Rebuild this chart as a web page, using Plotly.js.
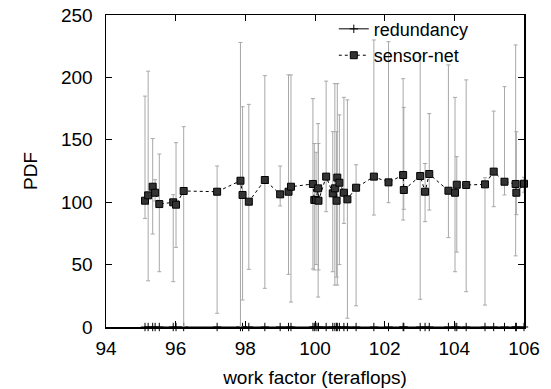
<!DOCTYPE html>
<html>
<head>
<meta charset="utf-8">
<script src="https://cdn.plot.ly/plotly-3.0.1.min.js"></script>
<style>html,body{margin:0;padding:0;background:#fff;}#chart{width:551px;height:389px;}</style>
</head>
<body>
<div id="chart"></div>
<script>
// work factor (teraflops)
var workFactor = [95.12, 95.21, 95.34, 95.41, 95.53, 95.93, 96.01, 96.23, 97.19, 97.86,
  97.92, 98.10, 98.56, 99.00, 99.24, 99.31, 99.94, 99.98, 100.03, 100.09,
  100.10, 100.32, 100.51, 100.57, 100.62, 100.64, 100.70, 100.83, 100.93, 101.18,
  101.69, 102.11, 102.53, 102.55, 103.02, 103.16, 103.28, 103.83, 104.02, 104.07,
  104.34, 104.88, 105.13, 105.44, 105.76, 105.78, 106.00];
// sensor-net PDF
var sensorNet = [101.2, 105.5, 112.4, 107.6, 98.5, 99.9, 98.0, 109.0, 108.4, 117.2,
  105.8, 100.4, 117.8, 106.3, 108.4, 112.4, 114.6, 101.8, 101.8, 111.1,
  101.2, 120.5, 107.1, 111.1, 101.2, 119.7, 115.6, 107.6, 102.3, 111.6,
  120.5, 115.9, 121.8, 109.8, 121.0, 108.4, 122.6, 109.2, 107.6, 114.0,
  113.8, 114.3, 124.5, 116.4, 114.6, 107.6, 114.8];
// error bar upper / lower ends
var sensorHigh = [185, 205, 151, 118, 138.6, 106, 147.7, 160.5, 129, 228,
  176.5, 178.4, 201.4, 129, 202, 202, 183, 147, 140, 163,
  147, 197, 156.5, 195, 156.5, 195, 170, 184, 182, 130,
  230, 228.6, 199, 176, 216.6, 131, 171, 210, 184, 136.5,
  198, 119.6, 173, 192.6, 226, 156.5, 120];
var sensorLow = [87, 37, 74.5, 101, 44.3, 36.3, 63.8, 0, 11, 0,
  21.6, 46.2, 31, 97, 42.2, 20, 46.5, 45.7, 50, 24,
  45.7, 92.4, 44.3, 33.6, 40, 33.6, 50, 83, 7, 17,
  89.7, 99.6, 85.7, 94.3, 22.2, 84.4, 93.7, 71.6, 44.3, 60,
  28.3, 17.6, 96.4, 105.8, 57, 90, 108];
// redundancy PDF
var redundancy = workFactor.map(function(){ return 0; });

var xTicks = [94, 96, 98, 100, 102, 104, 106];
var yTicks = [0, 50, 100, 150, 200, 250];

var font = {family: 'Liberation Sans, Arial, sans-serif', size: 19, color: '#000'};

var traces = [
  {
    x: workFactor, y: redundancy, name: 'redundancy', type: 'scatter', mode: 'lines+markers',
    line: {color: '#000', width: 1},
    marker: {symbol: 'cross-thin', size: 6, color: '#000', line: {color: '#000', width: 1}},
    cliponaxis: false
  },
  {
    x: workFactor, y: sensorNet, name: 'sensor-net', type: 'scatter', mode: 'lines+markers',
    line: {color: '#000', width: 1, dash: 'dot'},
    marker: {symbol: 'square', size: 7, color: '#333', line: {color: '#000', width: 1}},
    error_y: {
      type: 'data', symmetric: false,
      array: sensorHigh.map(function(h, i){ return h - sensorNet[i]; }),
      arrayminus: sensorLow.map(function(l, i){ return sensorNet[i] - l; }),
      color: '#a8a8a8', thickness: 1, width: 2
    },
    cliponaxis: false
  }
];

var layout = {
  width: 551, height: 389,
  margin: {l: 106, r: 27, t: 15, b: 62, autoexpand: false},
  paper_bgcolor: '#fff', plot_bgcolor: '#fff',
  font: font,
  showlegend: true,
  legend: {x: 0.545, y: 1.014, xanchor: 'left', yanchor: 'top', bgcolor: 'rgba(0,0,0,0)',
           font: {family: font.family, size: 18}, tracegroupgap: 0},
  xaxis: {
    range: [94, 106], tickvals: xTicks, ticktext: xTicks.map(String),
    ticks: 'inside', ticklen: 6, tickcolor: '#000', mirror: 'allticks',
    showline: true, linecolor: '#000', linewidth: 1.5, showgrid: false, zeroline: false,
    tickfont: {family: font.family, size: 19}, ticklabelstandoff: 4,
    title: {text: 'work factor (teraflops)', font: {family: font.family, size: 19}, standoff: 12}
  },
  yaxis: {
    range: [0, 250], tickvals: yTicks, ticktext: yTicks.map(String),
    ticks: 'inside', ticklen: 6, tickcolor: '#000', mirror: 'allticks',
    showline: true, linecolor: '#000', linewidth: 1.5, showgrid: false, zeroline: false,
    tickfont: {family: font.family, size: 19}, ticklabelstandoff: 8,
    title: {text: 'PDF', font: {family: font.family, size: 19}, standoff: 18}
  }
};

Plotly.newPlot('chart', traces, layout, {displayModeBar: false, staticPlot: true});
</script>
</body>
</html>
